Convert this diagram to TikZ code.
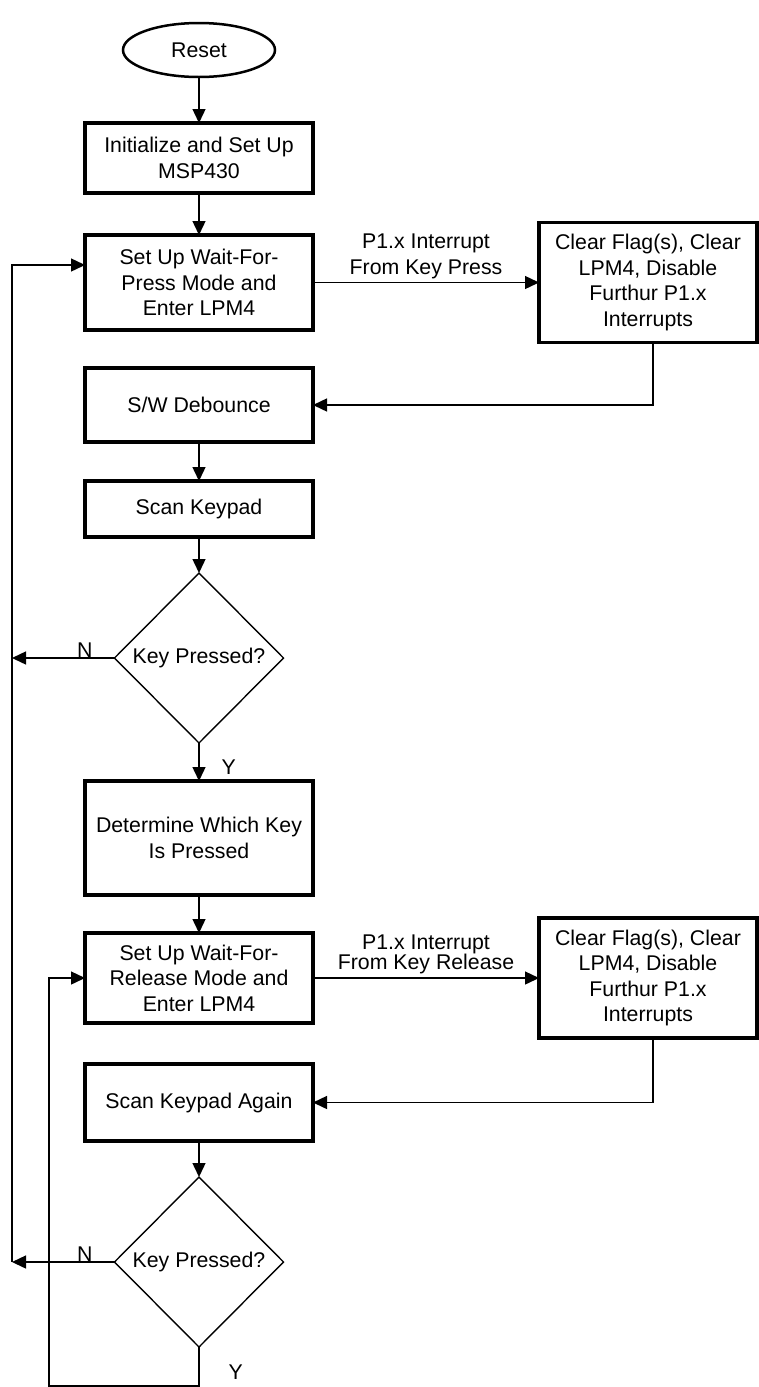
\documentclass[tikz,border=0pt]{standalone}
\usepackage{fontspec}
\setmainfont{Liberation Sans}
\usetikzlibrary{positioning,shapes.geometric,arrows.meta}

\begin{document}
\begin{tikzpicture}[every node/.style={font=\fontsize{21.3}{25.5}\selectfont},
    stepbox/.style={rectangle, draw=black, line width=3.3pt, minimum width=228pt, align=center, outer sep=0pt},
    sidebox/.style={rectangle, draw=black, line width=3.3pt, minimum width=218pt, minimum height=120pt, align=center, outer sep=0pt},
    terminal/.style={ellipse, draw=black, line width=2.5pt, minimum width=152pt, minimum height=54pt, outer sep=0pt},
    decision/.style={diamond, draw=black, line width=1.4pt, minimum width=169pt, minimum height=170pt, inner sep=0pt, outer sep=0pt},
    link/.style={line width=1.4pt, -{Triangle[length=14pt,width=13pt]}},
    tag/.style={inner sep=0pt, align=center}]
    \useasboundingbox (0,0) rectangle (759pt,-1387pt);
    % main column
    \node[terminal] (reset) at (199pt,-50pt) {Reset};
    \node[stepbox, minimum height=70pt, below=46pt of reset] (init) {Initialize and Set Up\\MSP430};
    \node[stepbox, minimum height=95pt, below=42pt of init] (press) {Set Up Wait-For-\\Press Mode and\\Enter LPM4};
    \node[stepbox, minimum height=74pt, below=38pt of press] (debounce) {S/W Debounce};
    \node[stepbox, minimum height=56pt, below=39pt of debounce] (scan) {Scan Keypad};
    \node[decision, below=36pt of scan] (keyA) {Key Pressed?};
    \node[stepbox, minimum height=114pt, below=38pt of keyA] (which) {Determine Which Key\\Is Pressed};
    \node[stepbox, minimum height=90pt, below=38pt of which] (release) {Set Up Wait-For-\\Release Mode and\\Enter LPM4};
    \node[stepbox, minimum height=77pt, below=41pt of release] (again) {Scan Keypad Again};
    \node[decision, below=36pt of again] (keyB) {Key Pressed?};
    % interrupt handlers
    \node[sidebox, right=226pt of press] (clearA) {Clear Flag(s), Clear\\LPM4, Disable\\Furthur P1.x\\Interrupts};
    \node[sidebox, right=226pt of release] (clearB) {Clear Flag(s), Clear\\LPM4, Disable\\Furthur P1.x\\Interrupts};
    \coordinate (loopa) at ([xshift=-73pt,yshift=17.5pt]press.west);
    \coordinate (loopb) at ([xshift=-36pt]release.west);

    \draw[link] (reset) -- (init);
    \draw[link] (init) -- (press);
    \draw[link] (press.east) -- node[tag, above=3pt]{P1.x Interrupt\\From Key Press} (clearA.west);
    \draw[link] ([xshift=5pt]clearA.south) |- (debounce.east);
    \draw[link] (debounce) -- (scan);
    \draw[link] (scan) -- (keyA);
    \draw[link] (keyA.west) -- node[tag, pos=0.29, above]{N} (keyA.west -| loopa);
    \draw[link] (keyA.south) -- node[tag, pos=0.63, right=22pt]{Y} (which.north);
    \draw[link] (which) -- (release);
    \draw[link] (release.east) -- node[tag, above=3pt]{P1.x Interrupt\\[-5pt]From Key Release} (clearB.west);
    \draw[link] ([xshift=5pt]clearB.south) |- (again.east);
    \draw[link] (again) -- (keyB);
    \draw[link] (keyB.west) -- node[tag, pos=0.29, above]{N} (keyB.west -| loopa);
    \draw[link] (keyB.west -| loopa) -- (loopa) -- (loopa -| press.west);
    \draw[link] (keyB.south) -- node[tag, pos=0.64, right=29pt]{Y} ++(0,-39pt) -| (loopb) -- (release.west);
\end{tikzpicture}
\end{document}
